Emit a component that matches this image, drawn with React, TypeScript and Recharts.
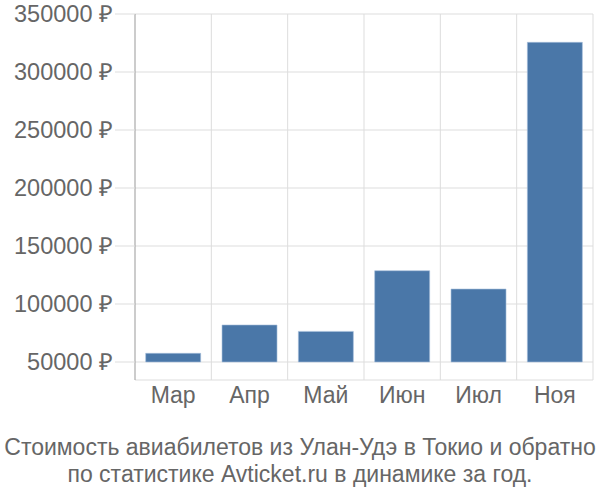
import { Bar, BarChart, CartesianGrid, XAxis, YAxis } from "recharts";

const months = ["Мар", "Апр", "Май", "Июн", "Июл", "Ноя"];
const prices = [57500, 81900, 76400, 128700, 112900, 325600];
const base = 50000;
const yTicks = [50000, 100000, 150000, 200000, 250000, 300000, 350000];
const captionLines = [
  "Стоимость авиабилетов из Улан-Удэ в Токио и обратно",
  "по статистике Avticket.ru в динамике за год.",
];

const chartData = months.map((m, i) => ({ month: m, range: [base, prices[i]] }));

const font = "'Liberation Sans', Arial, sans-serif";

export default function App() {
  return (
    <div style={{ position: "absolute", left: 0, top: 0, width: 600, height: 500, fontFamily: font, background: "#fff" }}>
      <BarChart
        width={600}
        height={420}
        data={chartData}
        margin={{ top: 14, right: 7, bottom: 10, left: 0 }}
        barCategoryGap="14%"
      >
        <CartesianGrid
          stroke="#dddddd"
          verticalCoordinatesGenerator={({ offset }: any) =>
            months.map((_, i) => offset.left + (offset.width * (i + 1)) / months.length)
          }
        />
        <XAxis
          dataKey="month"
          axisLine={false}
          tickLine={false}
          height={30}
          tick={{ fill: "#666", fontSize: 23, fontFamily: font }}
          tickMargin={1}
        />
        <YAxis
          width={135}
          domain={[34483, 350000]}
          ticks={yTicks}
          interval={0}
          tickSize={20}
          tickMargin={2}
          tickLine={{ stroke: "#dddddd" }}
          axisLine={{ stroke: "#999999" }}
          tickFormatter={(v: number) => `${v} ₽`}
          tick={{ fill: "#666", fontSize: 23.5, fontFamily: font }}
          allowDataOverflow
        />
        <Bar dataKey="range" fill="#4a77a8" stroke="#a7bfdc" strokeWidth={0.6} isAnimationActive={false} />
      </BarChart>
      <div
        style={{
          position: "absolute",
          left: 0,
          top: 434,
          width: 600,
          textAlign: "center",
          color: "#666",
          fontSize: 23,
          lineHeight: "27px",
          whiteSpace: "nowrap",
        }}
      >
        {captionLines.map((l) => (
          <div key={l}>{l}</div>
        ))}
      </div>
    </div>
  );
}
